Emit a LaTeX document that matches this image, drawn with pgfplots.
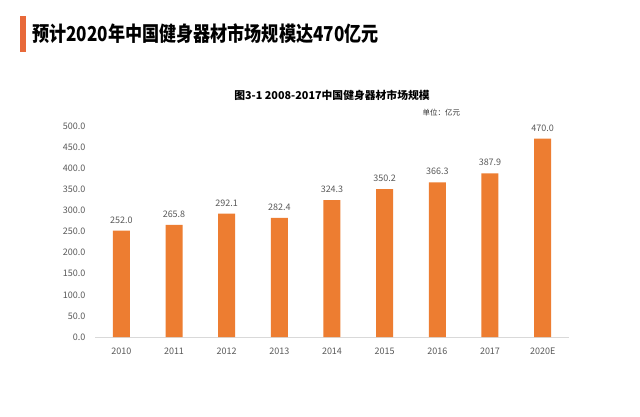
\documentclass[border=0pt]{standalone}
\usepackage{fontspec}
\setmainfont{Noto Sans CJK SC}
\usepackage{pgfplots}
\pgfplotsset{compat=1.18}
\definecolor{barorange}{HTML}{ED7D31}
\definecolor{accent}{HTML}{E8693A}
\definecolor{txtgray}{HTML}{595959}
\definecolor{axgray}{HTML}{D9D9D9}
\begin{document}
\begin{tikzpicture}[x=1pt,y=1pt]
\fill[white] (0,0) rectangle (640,416);
\fill[accent] (20,416-16) rectangle (26,416-52);
\node[anchor=west,inner sep=0pt,yscale=1.2,font=\bfseries\fontsize{17.1}{20}\selectfont] at (32,416-34) {预计2020年中国健身器材市场规模达470亿元};
\node[font=\bfseries\fontsize{10.8}{13}\selectfont] at (332,416-95) {图3-1 2008-2017中国健身器材市场规模};
\node[anchor=west,font=\fontsize{7.5}{9}\selectfont,text=black!80] at (419,416-113) {单位：亿元};
\begin{axis}[
  at={(95pt,79pt)}, anchor=south west,
  scale only axis, width=474pt, height=211pt,
  xmin=-0.5, xmax=8.5, ymin=0, ymax=500,
  axis x line*=bottom, axis y line=none,
  x axis line style={axgray, line width=0.8pt},
  xtick=data,
  xticklabels={2010,2011,2012,2013,2014,2015,2016,2017,2020E},
  xtick style={draw=none},
  ticklabel style={font=\fontsize{9}{11}\selectfont, text=txtgray},
  xticklabel shift=3pt,
  /pgf/number format/assume math mode=true,
  ybar, bar width=17pt,
  point meta=y,
  nodes near coords={\pgfmathprintnumber[fixed,fixed zerofill,precision=1,assume math mode=true]{\pgfplotspointmeta}},
  nodes near coords style={font=\fontsize{9}{11}\selectfont, text=txtgray, yshift=4pt},
  clip=false,
]
\addplot[fill=barorange, draw=none] coordinates {(0,252.0) (1,265.8) (2,292.1) (3,282.4) (4,324.3) (5,350.2) (6,366.3) (7,387.9) (8,470.0)};
\end{axis}
\begin{axis}[
  at={(95pt,79pt)}, anchor=south west,
  scale only axis, width=474pt, height=211pt,
  xmin=-0.5, xmax=8.5, ymin=0, ymax=500,
  axis x line=none, axis y line*=left,
  y axis line style={draw=none},
  ytick={0,50,...,500}, ytick style={draw=none},
  /pgf/number format/.cd, fixed, fixed zerofill, precision=1, assume math mode=true, /pgfplots/.cd,
  yticklabel style={font=\fontsize{9}{11}\selectfont, text=txtgray},
  yticklabel shift=6pt,
]
\addplot[draw=none] coordinates {(0,0)};
\end{axis}
\end{tikzpicture}
\end{document}
